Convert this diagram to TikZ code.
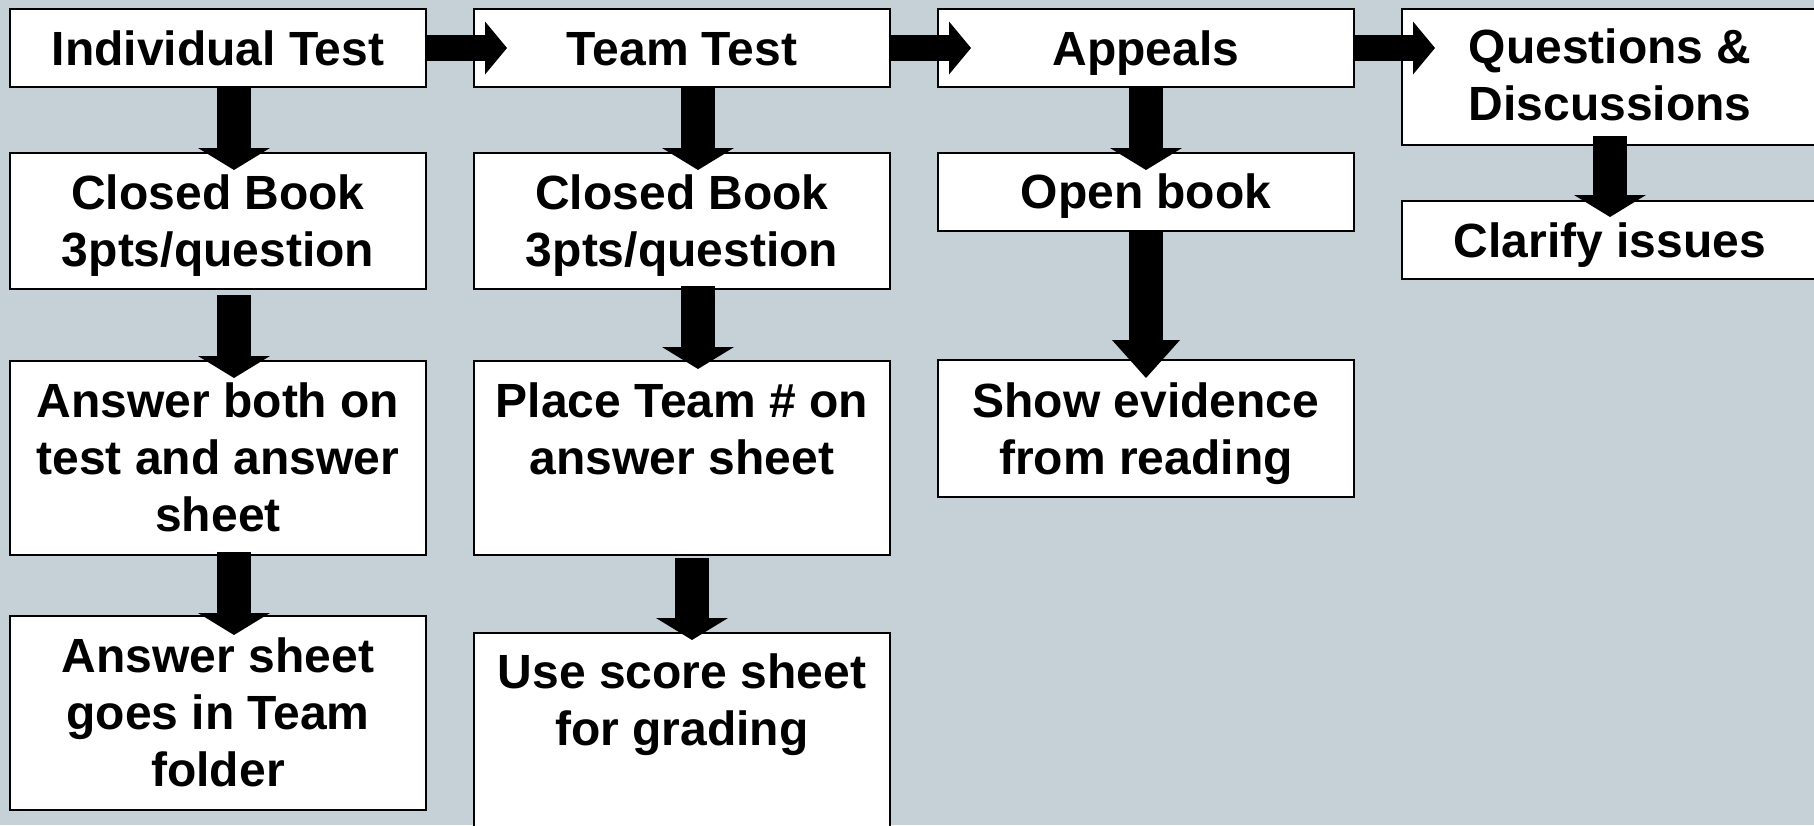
\documentclass[tikz,border=0pt]{standalone}
\usepackage{fontspec}
\setmainfont{Liberation Sans}
\usetikzlibrary{arrows.meta}
\definecolor{bgc}{RGB}{197,208,215}
\newcommand{\mltxt}[1]{\begin{tabular}[t]{@{}c@{}}#1\end{tabular}}
\tikzset{
  box/.style={draw=black, line width=1pt, fill=white, rectangle, inner sep=0pt, outer sep=0pt,
              minimum width=208pt, anchor=north west},
  lbl/.style={anchor=base, inner sep=0pt, outer sep=0pt, font=\fontsize{24pt}{28.5pt}\selectfont\bfseries},
  harrow/.style={draw=black, line width=13pt, -{Triangle[length=11pt,width=26.5pt,line width=0pt]}},
  varrow/.style={draw=black, line width=17pt, -{Triangle[length=11pt,width=36pt,line width=0pt]}},
  varrowlong/.style={draw=black, line width=17pt, -{Triangle[length=19pt,width=34pt,line width=0pt]}},
}
\begin{document}
\begin{tikzpicture}[x=0.5pt,y=-0.5pt]
\useasboundingbox (0,0) rectangle (1814,825);
\clip (0,0) rectangle (1814,825);
\fill[bgc] (0,0) rectangle (1814,825);

% column 1
\node[box, minimum height=39pt] (ind) at (10,9) {};
\node[box, minimum height=68pt] (cb1) at (10,153) {};
\node[box, minimum height=97pt] (ab) at (10,361) {};
\node[box, minimum height=97pt] (as) at (10,616) {};
% column 2
\node[box, minimum height=39pt] (team) at (474,9) {};
\node[box, minimum height=68pt] (cb2) at (474,153) {};
\node[box, minimum height=97pt] (pt) at (474,361) {};
\node[box, minimum height=100pt] (us) at (474,633) {};
% column 3
\node[box, minimum height=39pt] (app) at (938,9) {};
\node[box, minimum height=39pt] (ob) at (938,153) {};
\node[box, minimum height=68.5pt] (se) at (938,360) {};
% column 4
\node[box, minimum height=68pt] (qd) at (1402,9) {};
\node[box, minimum height=39pt] (cl) at (1402,201) {};

% texts
\node[lbl] (t-ind) at ([yshift=-28pt]ind.north) {\mltxt{Individual Test}};
\node[lbl] (t-cb1) at ([yshift=-28pt]cb1.north) {\mltxt{Closed Book\\3pts/question}};
\node[lbl] (t-ab) at ([yshift=-28pt]ab.north) {\mltxt{Answer both on\\test and answer\\sheet}};
\node[lbl] (t-as) at ([yshift=-28pt]as.north) {\mltxt{Answer sheet\\goes in Team\\folder}};
\node[lbl] (t-team) at ([yshift=-28pt]team.north) {\mltxt{Team Test}};
\node[lbl] (t-cb2) at ([yshift=-28pt]cb2.north) {\mltxt{Closed Book\\3pts/question}};
\node[lbl] (t-pt) at ([yshift=-28pt]pt.north) {\mltxt{Place Team \# on\\answer sheet}};
\node[lbl] (t-us) at ([yshift=-27.5pt]us.north) {\mltxt{Use score sheet\\for grading}};
\node[lbl] (t-app) at ([yshift=-28pt]app.north) {\mltxt{Appeals}};
\node[lbl] (t-ob) at ([yshift=-27.5pt]ob.north) {\mltxt{Open book}};
\node[lbl] (t-se) at ([yshift=-28.5pt]se.north) {\mltxt{Show evidence\\from reading}};
\node[lbl] (t-qd) at ([yshift=-27pt]qd.north) {\mltxt{Questions \&\\Discussions}};
\node[lbl] (t-cl) at ([yshift=-28pt]cl.north) {\mltxt{Clarify issues}};

% horizontal arrows
\coordinate (qdin) at (qd.west |- app.east);
\draw[harrow] (ind.east) -- ([xshift=16.5pt]team.west);
\draw[harrow] (team.east) -- ([xshift=16.5pt]app.west);
\draw[harrow] (app.east) -- ([xshift=16.5pt]qdin);

% vertical arrows
\draw[varrow] ([xshift=8pt]ind.south) -- ([xshift=8pt,yshift=-8.5pt]cb1.north);
\draw[varrow] ([xshift=8pt]team.south) -- ([xshift=8pt,yshift=-8.5pt]cb2.north);
\draw[varrow] (app.south) -- ([yshift=-8.5pt]ob.north);
\draw[varrow] ([yshift=4.5pt]qd.south) -- ([yshift=-8pt]cl.north);
\draw[varrow] ([xshift=8pt,yshift=-3pt]cb1.south) -- ([xshift=8pt,yshift=-8.5pt]ab.north);
\draw[varrow] ([xshift=8pt,yshift=1.5pt]cb2.south) -- ([xshift=8pt,yshift=-4pt]pt.north);
\draw[varrowlong] (ob.south) -- ([yshift=-9pt]se.north);
\draw[varrow] ([xshift=8pt,yshift=1.5pt]ab.south) -- ([xshift=8pt,yshift=-9.5pt]as.north);
\draw[varrow] ([xshift=5pt,yshift=-1.5pt]pt.south) -- ([xshift=5pt,yshift=-3.5pt]us.north);
\end{tikzpicture}
\end{document}
